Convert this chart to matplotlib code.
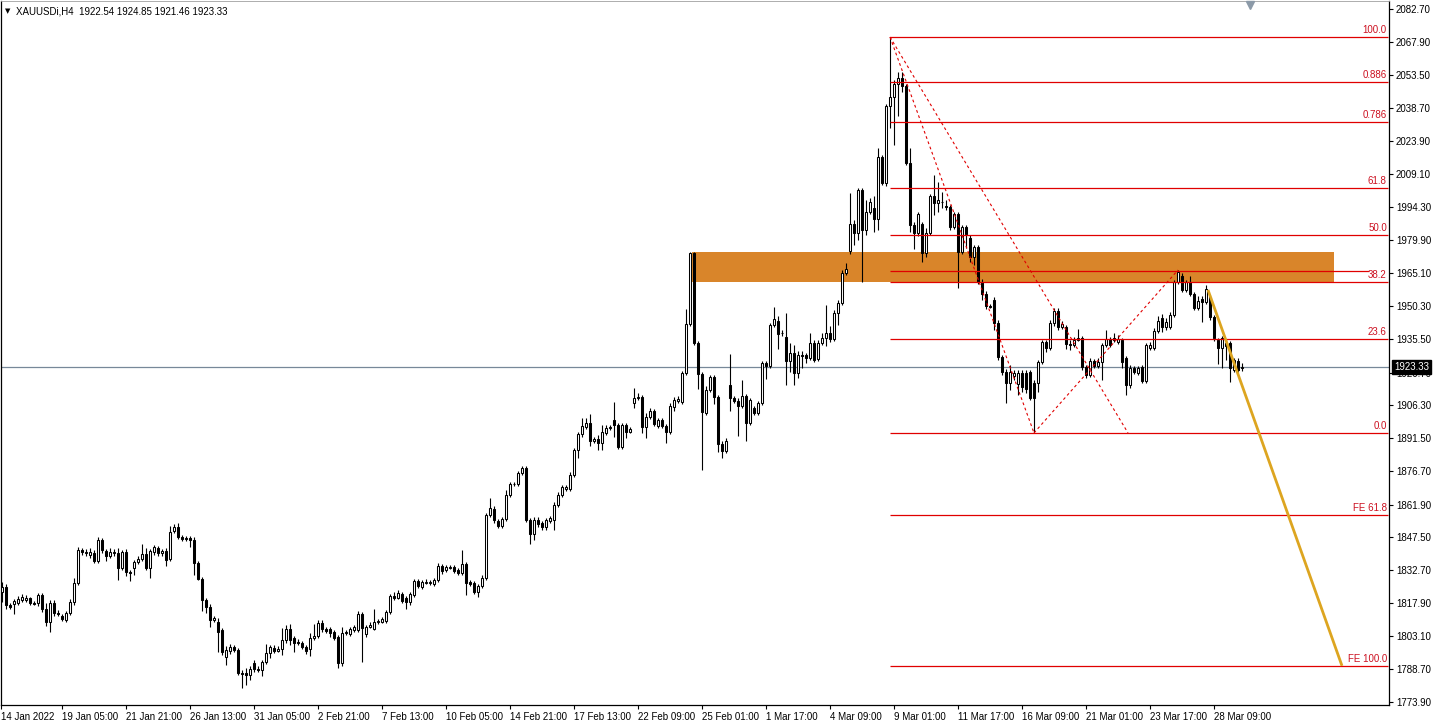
import matplotlib
matplotlib.use("Agg")
import matplotlib.pyplot as plt
import matplotlib.transforms as mtransforms
from matplotlib.patches import Rectangle
import numpy as np

plt.rcParams['font.family'] = ['Liberation Sans', 'DejaVu Sans']

# XAUUSDi H4 candles (oldest first)
opens = [
    1822.9, 1825.1, 1817.1, 1817.6, 1818.0, 1819.3, 1819.3, 1820.2, 1818.0, 1818.0,
    1821.6, 1815.3, 1809.5, 1818.0, 1813.5, 1812.2, 1810.4, 1813.5, 1818.4, 1826.9,
    1841.6, 1840.3, 1839.4, 1840.3, 1836.7, 1846.1, 1841.2, 1839.0, 1840.3, 1840.3,
    1833.6, 1840.7, 1831.8, 1833.6, 1836.3, 1837.6, 1839.8, 1833.6, 1840.7, 1842.5,
    1840.3, 1841.2, 1837.6, 1850.1, 1851.9, 1847.4, 1847.0, 1847.0, 1846.1, 1835.8,
    1828.7, 1819.3, 1816.2, 1810.4, 1809.5, 1806.0, 1794.0, 1796.6, 1798.4, 1797.1,
    1786.8, 1786.8, 1785.9, 1791.3, 1788.6, 1788.2, 1791.7, 1795.7, 1798.0, 1796.6,
    1797.5, 1801.5, 1806.4, 1802.4, 1800.6, 1800.2, 1798.4, 1797.5, 1802.4, 1803.3,
    1809.1, 1806.4, 1806.4, 1805.1, 1802.9, 1791.3, 1804.6, 1804.2, 1806.0, 1806.0,
    1813.1, 1804.2, 1807.3, 1806.4, 1809.5, 1809.5, 1810.0, 1814.0, 1821.1, 1820.2,
    1822.0, 1820.2, 1818.4, 1821.6, 1827.8, 1825.1, 1826.9, 1826.9, 1826.5, 1828.3,
    1834.5, 1832.7, 1833.6, 1834.1, 1832.7, 1831.4, 1835.4, 1827.4, 1826.9, 1822.9,
    1825.6, 1829.2, 1857.2, 1859.9, 1854.5, 1852.3, 1855.4, 1866.1, 1871.0, 1871.0,
    1875.9, 1878.2, 1855.0, 1848.7, 1855.0, 1853.6, 1851.9, 1854.5, 1855.0, 1861.7,
    1866.1, 1868.8, 1868.8, 1875.0, 1886.2, 1893.3, 1896.4, 1898.2, 1890.0, 1891.3,
    1889.3, 1893.8, 1896.0, 1899.6, 1897.3, 1887.5, 1897.3, 1894.2, 1907.1, 1909.4,
    1909.8, 1896.4, 1900.9, 1903.6, 1896.9, 1899.6, 1896.9, 1894.2, 1905.3, 1908.0,
    1907.6, 1920.5, 1942.3, 1974.0, 1933.9, 1920.0, 1902.7, 1912.9, 1918.7, 1909.8,
    1888.9, 1885.7, 1915.1, 1909.4, 1908.0, 1905.8, 1910.2, 1898.2, 1904.9, 1902.7,
    1907.1, 1924.9, 1923.6, 1941.9, 1943.7, 1938.3, 1936.5, 1925.8, 1929.4, 1920.5,
    1928.5, 1928.5, 1927.2, 1933.9, 1926.7, 1933.9, 1936.1, 1938.3, 1935.7, 1947.2,
    1951.7, 1965.0, 1974.9, 1986.9, 1982.9, 2002.0, 1984.2, 1992.2, 1994.0, 1989.1,
    2016.7, 2005.2, 2039.5, 2043.5, 2049.3, 2051.9, 2048.4, 2014.1, 1986.4, 1982.9,
    1986.9, 1974.0, 1982.9, 1999.4, 1996.2, 1996.7, 1994.9, 1994.5, 1985.6, 1991.3,
    1974.4, 1985.6, 1980.6, 1972.2, 1976.6, 1961.0, 1955.7, 1950.3, 1953.0, 1942.8,
    1927.6, 1920.9, 1916.0, 1919.1, 1915.6, 1920.5, 1920.5, 1920.9, 1916.0, 1916.0,
    1925.4, 1934.3, 1931.6, 1942.8, 1948.1, 1941.0, 1941.0, 1933.4, 1933.0, 1935.2,
    1936.1, 1923.2, 1919.6, 1925.8, 1923.6, 1925.4, 1933.0, 1935.7, 1936.1, 1934.3,
    1935.2, 1927.2, 1915.1, 1922.7, 1920.5, 1923.2, 1916.9, 1931.6, 1931.6, 1939.2,
    1945.0, 1941.0, 1941.0, 1946.3, 1961.0, 1963.7, 1957.5, 1961.0, 1955.7, 1949.5,
    1953.5, 1952.1, 1954.4, 1945.4, 1935.2, 1931.6, 1933.9, 1933.9, 1921.8, 1925.8,
    1922.54,
]
highs = [
    1827.4, 1826.5, 1818.0, 1819.8, 1821.1, 1822.0, 1821.6, 1820.7, 1818.9, 1822.5,
    1822.5, 1818.0, 1819.3, 1819.3, 1814.9, 1813.1, 1814.4, 1819.8, 1829.2, 1843.0,
    1842.5, 1842.1, 1842.5, 1841.6, 1847.4, 1847.0, 1842.1, 1842.5, 1842.1, 1842.5,
    1841.6, 1842.1, 1832.7, 1837.2, 1839.0, 1844.3, 1842.5, 1842.1, 1843.9, 1843.4,
    1842.1, 1842.5, 1852.3, 1853.2, 1853.6, 1848.3, 1847.9, 1847.9, 1847.4, 1836.7,
    1829.6, 1820.2, 1817.6, 1812.2, 1811.3, 1806.9, 1798.9, 1799.7, 1799.3, 1798.0,
    1788.2, 1789.1, 1790.0, 1792.6, 1790.0, 1792.6, 1799.7, 1799.3, 1799.3, 1798.9,
    1806.9, 1808.2, 1808.6, 1803.3, 1802.0, 1801.1, 1799.3, 1804.6, 1808.6, 1810.4,
    1810.4, 1807.3, 1807.3, 1806.0, 1803.8, 1807.3, 1806.0, 1807.3, 1808.2, 1814.4,
    1814.0, 1808.2, 1809.5, 1815.3, 1810.9, 1811.8, 1814.9, 1822.0, 1822.9, 1823.8,
    1822.9, 1821.1, 1822.9, 1828.7, 1828.7, 1828.3, 1828.7, 1828.3, 1829.2, 1835.8,
    1835.4, 1835.0, 1835.0, 1835.0, 1833.6, 1841.6, 1836.3, 1828.3, 1827.8, 1826.5,
    1830.5, 1858.1, 1864.8, 1861.2, 1855.4, 1856.3, 1868.4, 1871.9, 1871.9, 1876.8,
    1879.1, 1879.1, 1855.9, 1856.3, 1856.3, 1854.5, 1855.9, 1856.8, 1863.0, 1867.5,
    1870.6, 1870.6, 1876.4, 1887.1, 1894.2, 1900.4, 1900.4, 1902.2, 1892.2, 1892.9,
    1897.3, 1897.3, 1897.3, 1907.6, 1898.2, 1898.2, 1898.2, 1896.4, 1913.8, 1911.6,
    1910.7, 1902.7, 1904.9, 1904.5, 1900.4, 1900.4, 1897.8, 1907.1, 1909.8, 1910.2,
    1921.4, 1949.0, 1974.4, 1974.4, 1934.8, 1920.9, 1914.7, 1919.6, 1919.6, 1910.7,
    1890.4, 1891.5, 1928.9, 1910.2, 1909.4, 1917.4, 1911.1, 1909.4, 1905.8, 1908.0,
    1925.8, 1925.8, 1942.8, 1949.9, 1945.9, 1939.7, 1947.2, 1933.9, 1933.0, 1930.3,
    1930.3, 1929.4, 1938.3, 1935.2, 1935.2, 1938.3, 1950.8, 1941.4, 1948.6, 1953.0,
    1966.4, 1969.5, 2000.7, 1988.7, 2002.9, 2002.9, 1997.6, 1998.5, 1999.4, 2020.7,
    2017.6, 2040.4, 2070.2, 2051.1, 2054.6, 2054.6, 2049.3, 2020.8, 1987.8, 1992.2,
    1987.8, 1985.1, 2000.3, 2008.7, 2005.6, 2001.1, 1997.6, 1995.4, 1992.2, 1992.2,
    1986.4, 1986.4, 1982.0, 1977.5, 1977.5, 1962.4, 1957.0, 1951.2, 1954.4, 1944.1,
    1928.5, 1922.3, 1924.0, 1921.8, 1921.8, 1921.8, 1921.8, 1921.8, 1917.4, 1926.3,
    1935.2, 1935.2, 1944.1, 1949.5, 1949.5, 1943.7, 1941.9, 1935.2, 1936.5, 1940.1,
    1937.0, 1924.0, 1927.2, 1926.7, 1927.2, 1933.9, 1939.7, 1936.5, 1938.3, 1937.4,
    1936.1, 1928.1, 1924.0, 1923.6, 1923.6, 1924.0, 1933.9, 1934.3, 1940.6, 1945.9,
    1946.8, 1945.0, 1947.7, 1961.9, 1966.4, 1965.0, 1961.9, 1963.7, 1956.6, 1954.8,
    1954.8, 1959.7, 1955.2, 1946.3, 1936.1, 1937.0, 1935.2, 1934.8, 1927.2, 1927.2,
    1924.85,
]
lows = [
    1818.4, 1815.3, 1815.3, 1813.1, 1817.1, 1818.4, 1818.4, 1817.1, 1817.1, 1816.7,
    1814.0, 1807.8, 1805.1, 1812.2, 1812.2, 1810.0, 1809.5, 1812.7, 1817.1, 1826.0,
    1839.4, 1839.0, 1838.1, 1835.8, 1835.8, 1840.3, 1836.7, 1838.1, 1839.0, 1828.3,
    1832.7, 1830.0, 1827.8, 1830.5, 1835.4, 1836.7, 1832.7, 1829.2, 1839.4, 1839.0,
    1839.0, 1834.5, 1836.7, 1849.2, 1846.5, 1845.6, 1845.6, 1843.0, 1830.5, 1828.3,
    1814.4, 1813.5, 1807.3, 1809.5, 1796.2, 1794.8, 1790.4, 1795.3, 1796.2, 1785.9,
    1780.2, 1781.5, 1783.7, 1787.3, 1787.3, 1785.5, 1790.8, 1793.5, 1795.7, 1796.2,
    1794.8, 1800.2, 1799.3, 1796.2, 1799.3, 1797.5, 1795.3, 1794.4, 1801.5, 1802.4,
    1805.1, 1804.6, 1802.9, 1801.5, 1789.1, 1790.0, 1803.8, 1803.3, 1805.1, 1805.1,
    1791.7, 1802.9, 1806.9, 1806.0, 1808.6, 1809.1, 1809.1, 1813.1, 1819.3, 1819.8,
    1818.0, 1815.3, 1817.1, 1820.7, 1824.7, 1824.3, 1826.5, 1826.0, 1825.6, 1827.4,
    1830.9, 1831.8, 1833.2, 1831.4, 1830.5, 1830.5, 1821.6, 1825.6, 1822.0, 1820.7,
    1824.7, 1828.3, 1856.3, 1853.6, 1851.4, 1851.4, 1854.5, 1865.2, 1870.1, 1870.1,
    1875.0, 1854.1, 1844.3, 1846.1, 1851.9, 1850.5, 1850.5, 1853.6, 1850.5, 1860.8,
    1865.2, 1867.9, 1867.9, 1874.1, 1882.6, 1892.0, 1895.5, 1887.9, 1889.3, 1886.2,
    1886.2, 1892.9, 1895.1, 1892.0, 1886.6, 1886.6, 1891.5, 1893.8, 1904.9, 1908.5,
    1893.8, 1891.5, 1900.0, 1896.9, 1896.0, 1896.0, 1889.3, 1893.3, 1903.7, 1907.1,
    1906.7, 1919.6, 1941.4, 1933.0, 1913.4, 1877.3, 1901.8, 1912.0, 1906.7, 1885.3,
    1882.6, 1884.8, 1903.7, 1907.1, 1892.4, 1904.9, 1890.2, 1897.3, 1901.8, 1901.8,
    1906.2, 1917.8, 1922.7, 1941.0, 1931.2, 1937.0, 1915.1, 1920.9, 1915.1, 1918.3,
    1922.7, 1924.9, 1926.3, 1925.4, 1925.8, 1933.0, 1932.5, 1934.3, 1934.8, 1941.9,
    1950.8, 1964.2, 1973.5, 1977.5, 1979.7, 1961.0, 1982.0, 1991.3, 1983.3, 1984.2,
    2004.3, 2003.8, 2029.7, 2022.1, 2035.0, 2045.7, 2013.2, 1983.3, 1975.7, 1981.5,
    1969.9, 1972.2, 1982.0, 1990.9, 1992.2, 1994.0, 1993.1, 1984.2, 1984.7, 1958.4,
    1973.5, 1976.2, 1969.9, 1968.6, 1960.2, 1953.0, 1949.0, 1949.5, 1939.7, 1926.3,
    1919.6, 1907.1, 1912.9, 1917.4, 1910.7, 1912.0, 1911.6, 1908.5, 1893.8, 1912.0,
    1924.5, 1929.9, 1930.7, 1941.4, 1939.7, 1940.1, 1931.2, 1930.7, 1932.1, 1934.8,
    1921.8, 1918.3, 1918.7, 1922.7, 1922.7, 1917.4, 1932.1, 1932.1, 1934.3, 1933.4,
    1922.7, 1910.7, 1913.8, 1920.0, 1919.6, 1916.0, 1916.0, 1930.7, 1930.7, 1938.3,
    1938.8, 1939.7, 1940.1, 1945.4, 1960.2, 1956.6, 1956.6, 1954.8, 1948.6, 1948.6,
    1943.2, 1951.2, 1944.1, 1934.8, 1924.5, 1922.7, 1926.3, 1916.5, 1920.9, 1920.9,
    1921.46,
]
closes = [
    1825.1, 1817.1, 1816.2, 1818.9, 1819.8, 1820.7, 1820.2, 1818.0, 1817.6, 1821.6,
    1815.3, 1809.5, 1818.0, 1813.5, 1813.1, 1810.9, 1813.5, 1818.4, 1826.9, 1841.6,
    1840.7, 1840.7, 1840.7, 1836.7, 1846.1, 1841.6, 1839.0, 1840.7, 1840.7, 1833.6,
    1840.7, 1831.8, 1831.4, 1836.3, 1837.6, 1839.8, 1833.6, 1841.2, 1843.0, 1840.3,
    1841.2, 1837.2, 1849.6, 1851.9, 1847.4, 1846.5, 1846.5, 1846.1, 1835.8, 1828.7,
    1819.3, 1816.2, 1810.4, 1811.3, 1805.1, 1796.2, 1797.1, 1798.4, 1797.1, 1786.8,
    1786.4, 1785.9, 1788.6, 1788.6, 1788.2, 1791.7, 1795.7, 1798.4, 1796.6, 1797.5,
    1801.5, 1806.4, 1801.5, 1800.2, 1800.2, 1798.4, 1796.6, 1802.4, 1803.3, 1809.1,
    1806.4, 1805.5, 1804.6, 1802.4, 1791.3, 1804.6, 1805.1, 1806.4, 1807.3, 1813.1,
    1806.9, 1807.3, 1808.2, 1809.5, 1810.0, 1810.9, 1814.0, 1821.1, 1820.2, 1822.5,
    1818.9, 1818.4, 1822.0, 1827.8, 1825.6, 1827.4, 1827.4, 1827.4, 1828.3, 1834.5,
    1832.3, 1834.1, 1834.1, 1832.3, 1831.4, 1835.4, 1826.9, 1826.5, 1822.9, 1825.6,
    1829.2, 1857.2, 1860.3, 1855.0, 1852.3, 1855.4, 1866.1, 1871.0, 1871.2, 1875.9,
    1878.2, 1855.0, 1848.7, 1855.0, 1853.2, 1851.9, 1855.0, 1855.9, 1861.7, 1866.1,
    1869.7, 1869.7, 1875.0, 1886.2, 1893.3, 1896.9, 1898.2, 1890.4, 1891.3, 1889.3,
    1894.2, 1896.0, 1896.4, 1897.3, 1887.5, 1897.3, 1894.2, 1895.5, 1909.4, 1909.8,
    1896.4, 1900.9, 1903.6, 1897.8, 1899.6, 1896.9, 1894.2, 1905.8, 1908.5, 1908.9,
    1920.5, 1942.3, 1974.0, 1933.9, 1920.0, 1903.1, 1912.9, 1918.7, 1909.8, 1888.9,
    1885.7, 1890.2, 1909.4, 1908.0, 1905.8, 1910.2, 1898.2, 1908.5, 1902.7, 1907.1,
    1924.9, 1923.6, 1941.9, 1944.6, 1937.9, 1938.1, 1925.8, 1929.4, 1920.5, 1928.5,
    1928.1, 1927.2, 1933.9, 1926.3, 1933.9, 1936.1, 1938.3, 1935.7, 1947.2, 1951.7,
    1965.0, 1966.8, 1986.9, 1982.9, 2002.0, 1984.2, 1992.2, 1996.7, 1989.1, 2016.7,
    2005.2, 2039.5, 2043.5, 2049.3, 2051.9, 2048.4, 2014.1, 1986.4, 1982.9, 1991.3,
    1974.0, 1982.9, 1999.4, 1996.2, 1997.6, 1996.5, 1994.5, 1985.6, 1991.3, 1974.4,
    1985.6, 1982.4, 1972.2, 1976.6, 1961.0, 1955.7, 1950.3, 1950.0, 1942.8, 1927.6,
    1920.9, 1916.0, 1920.9, 1920.5, 1920.5, 1914.2, 1913.4, 1909.4, 1909.4, 1925.4,
    1934.3, 1931.6, 1942.8, 1948.1, 1941.0, 1942.3, 1933.4, 1933.0, 1935.2, 1936.1,
    1923.2, 1919.6, 1925.8, 1923.6, 1925.4, 1933.0, 1935.7, 1933.0, 1935.2, 1935.7,
    1925.4, 1915.1, 1922.7, 1920.9, 1922.7, 1916.9, 1933.0, 1933.0, 1939.2, 1943.7,
    1941.0, 1943.2, 1946.3, 1961.0, 1965.5, 1957.5, 1961.0, 1955.7, 1949.5, 1952.6,
    1952.1, 1957.9, 1945.4, 1936.1, 1931.6, 1936.1, 1932.5, 1922.7, 1926.3, 1921.8,
    1923.33,
]

price_ticks = [2082.70, 2067.90, 2053.50, 2038.70, 2023.90, 2009.10, 1994.30,
               1979.90, 1965.10, 1950.30, 1935.50, 1920.70, 1906.30, 1891.50,
               1876.70, 1861.90, 1847.50, 1832.70, 1817.90, 1803.10, 1788.70,
               1773.90]
date_labels = ['19 Jan 05:00', '21 Jan 21:00', '26 Jan 13:00', '31 Jan 05:00',
               '2 Feb 21:00', '7 Feb 13:00', '10 Feb 05:00', '14 Feb 21:00',
               '17 Feb 13:00', '22 Feb 09:00', '25 Feb 01:00', '1 Mar 17:00',
               '4 Mar 09:00', '9 Mar 01:00', '11 Mar 17:00', '16 Mar 09:00',
               '21 Mar 01:00', '23 Mar 17:00', '28 Mar 09:00']
first_label = '14 Jan 2022'

# drawing objects on the chart
zone_bars = (172.5, 333.0)          # supply zone (orange box)
zone_prices = (1961.1, 1974.4)
resist_level = 1965.9               # red line inside the box
fib_ratios = [1.0, 0.886, 0.786, 0.618, 0.5, 0.382, 0.236, 0.0]
fib_texts = ['100.0', '0.886', '0.786', '61.8', '50.0', '38.2', '23.6', '0.0']
fe_ratios = [0.618, 1.0]
fe_texts = ['FE 61.8', 'FE 100.0']
a_bar, b_bar, c_bar, ret_end_bar = 222, 258, 294, 281.5
proj_start = (301.5, 1957.5)        # gold projection line

W, H = 1436, 727
fig = plt.figure(figsize=(W / 100, H / 100), dpi=100)
ax = fig.add_axes([0.5 / W, 22 / H, 1388.5 / W, 704 / H])
ax.set_xlim(-0.375, 346.75)
ax.set_ylim(1772.56, 2086.26)

o = np.array(opens)
h = np.array(highs)
lo = np.array(lows)
c = np.array(closes)
x = np.arange(len(c))
up = c >= o
body_bottom = np.minimum(o, c)
body_h = np.abs(c - o)

ax.vlines(x, lo, h, color='black', lw=0.8, zorder=3)
ax.bar(x[up], body_h[up], 0.55, body_bottom[up], facecolor='white',
       edgecolor='black', lw=0.75, zorder=4)
ax.bar(x[~up], body_h[~up], 0.55, body_bottom[~up], facecolor='black',
       edgecolor='black', lw=0.75, zorder=4)

# orange zone
ax.add_patch(Rectangle((zone_bars[0], zone_prices[0]), zone_bars[1] - zone_bars[0],
                       zone_prices[1] - zone_prices[0], facecolor='#D9852A',
                       edgecolor='none', zorder=1))

red = '#E00000'
txt_red = '#CC1020'
fib_right = 346.5
hi_a = highs[a_bar]
lo_b = lows[b_bar]
hi_c = highs[c_bar]

ax.hlines(resist_level, a_bar, 341.75, color=red, lw=0.9, zorder=5)

# fibonacci retracement
for r, t in zip(fib_ratios, fib_texts):
    lvl = lo_b + r * (hi_a - lo_b)
    ax.hlines(lvl, a_bar, fib_right, color=red, lw=0.9, zorder=5)
    ax.text(fib_right - 0.3, lvl + 0.9, t, ha='right', va='bottom',
            color=txt_red, fontsize=7, zorder=6)

# fibonacci expansion
for r, t in zip(fe_ratios, fe_texts):
    lvl = hi_c - r * (hi_a - lo_b)
    ax.hlines(lvl, a_bar, fib_right, color=red, lw=0.9, zorder=5)
    ax.text(fib_right - 0.3, lvl + 0.9, t, ha='right', va='bottom',
            color=txt_red, fontsize=7, zorder=6)

dash = (0, (2.5, 2.5))
ax.plot([a_bar, ret_end_bar], [hi_a, lo_b], color=red, lw=0.8, ls=dash, zorder=5)
ax.plot([a_bar, b_bar], [hi_a, lo_b], color=red, lw=0.8, ls=dash, zorder=5)
ax.plot([b_bar, c_bar], [lo_b, hi_c], color=red, lw=0.8, ls=dash, zorder=5)

# projection line down to FE 100
fe100 = hi_c - (hi_a - lo_b)
ax.plot([proj_start[0], 335.0], [proj_start[1], fe100], color='#DDA520', lw=2.0,
        zorder=6, solid_capstyle='butt')

# current price line
last = closes[-1]
ax.axhline(last, color='#778899', lw=0.9, zorder=2)

# right price axis
ax.yaxis.tick_right()
ax.set_yticks(price_ticks)
ax.set_yticklabels([f'{p:.2f}' for p in price_ticks])
ax.tick_params(axis='y', labelsize=7, length=3, width=0.8, pad=2, colors='black')

# time axis
tick_bars = list(range(15, len(c), 16))
ax.set_xticks([-0.2] + tick_bars)
ax.set_xticklabels([first_label] + date_labels)
ax.tick_params(axis='x', labelsize=7, length=3, width=0.8, pad=2)
for lbl in ax.get_xticklabels():
    lbl.set_horizontalalignment('left')

for s in ['left', 'bottom', 'right']:
    ax.spines[s].set_color('black')
    ax.spines[s].set_linewidth(0.9)
ax.spines['top'].set_color('#A0A0A0')
ax.spines['top'].set_linewidth(0.6)

# price label box (covers the 1920.70 tick label as in the terminal)
blend = mtransforms.blended_transform_factory(ax.transAxes, ax.transData)
ax.annotate(f'{last:.2f}', xy=(1.0, last), xycoords=blend, xytext=(5, 0),
            textcoords='offset pixels', ha='left', va='center', color='white',
            fontsize=7, zorder=10, annotation_clip=False,
            bbox=dict(boxstyle='square,pad=0.2', fc='black', ec='black'))

# header
fig.text(5 / W, 1 - 11 / H, '\u25bc', fontsize=5, va='center', color='black',
         family=['DejaVu Sans'])
fig.text(16 / W, 1 - 11 / H,
         f'XAUUSDi,H4  {opens[-1]:.2f} {highs[-1]:.2f} {lows[-1]:.2f} {closes[-1]:.2f}',
         fontsize=7, va='center', color='black')

# chart shift marker
ax.plot([312], [0.995], marker='v', ms=6, color='#8C9AA8',
        transform=mtransforms.blended_transform_factory(ax.transData, ax.transAxes),
        clip_on=False, zorder=7)

fig.savefig('out.png', dpi=100, facecolor='white')
